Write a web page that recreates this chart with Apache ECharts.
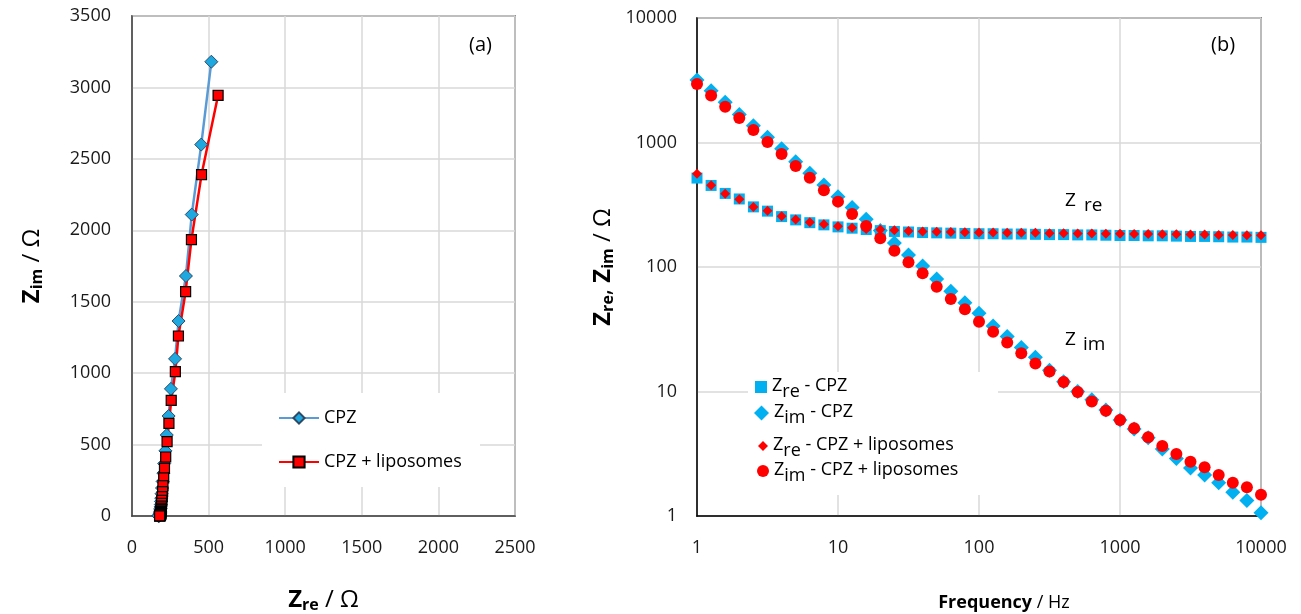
<!DOCTYPE html>
<html>
<head>
<meta charset="utf-8">
<script src="https://cdn.jsdelivr.net/npm/echarts@6/dist/echarts.min.js"></script>
<style>
html,body{margin:0;padding:0;background:#fff;}
#c{width:1301px;height:614px;}
</style>
</head>
<body>
<div id="c"></div>
<script>
// Frequencies (Hz), 10 points per decade
var freq = [1, 1.259, 1.585, 1.995, 2.512, 3.162, 3.981, 5.012, 6.31, 7.943,
  10, 12.59, 15.85, 19.95, 25.12, 31.62, 39.81, 50.12, 63.1, 79.43,
  100, 125.9, 158.5, 199.5, 251.2, 316.2, 398.1, 501.2, 631, 794.3,
  1000, 1259, 1585, 1995, 2512, 3162, 3981, 5012, 6310, 7943, 10000];
// Z_re (Ohm) - CPZ
var zreCPZ = [518, 452, 390, 352, 304, 281, 254, 239, 227, 218,
  210, 205, 200, 196, 193, 191, 189, 188, 187, 186,
  185, 185, 184, 184, 183, 182, 182, 181, 181, 180,
  179, 179, 178, 178, 177, 176, 176, 175, 174, 174, 173];
// Z_im (Ohm) - CPZ
var zimCPZ = [3180, 2600, 2110, 1680, 1365, 1100, 890, 700, 567, 456,
  367, 300, 242, 196, 156, 125, 102, 80, 64, 51.6,
  42.5, 33.6, 27.6, 22.6, 18.8, 14.8, 12.0, 10.0, 8.6, 7.1,
  5.9, 5.0, 4.25, 3.45, 2.9, 2.43, 2.13, 1.85, 1.55, 1.33, 1.06];
// Z_re (Ohm) - CPZ + liposomes
var zreLipo = [562, 454, 388, 350, 303, 283, 256, 241, 229, 220,
  212, 207, 202, 200, 197, 195, 193, 192, 191, 190,
  189, 189, 188, 188, 188, 187, 187, 186, 186, 185,
  185, 184, 184, 183, 183, 182, 182, 181, 181, 180, 180];
// Z_im (Ohm) - CPZ + liposomes
var zimLipo = [2945, 2390, 1935, 1570, 1260, 1010, 810, 648, 521, 413,
  335, 267, 213, 170, 135, 109, 89, 69.5, 55.4, 45.7,
  36.4, 30.2, 24.7, 20.3, 16.8, 14.5, 11.9, 9.9, 8.3, 7.0,
  5.9, 5.06, 4.3, 3.65, 3.15, 2.73, 2.46, 2.13, 1.85, 1.70, 1.48];

var seriesNamesA = ['CPZ', 'CPZ + liposomes'];
var seriesNamesB = ['Zre - CPZ', 'Zim - CPZ', 'Zre - CPZ + liposomes', 'Zim - CPZ + liposomes'];

function pairs(xs, ys) { return xs.map(function (x, i) { return [x, ys[i]]; }); }
function plain(v) { return String(Math.round(v)); }

var FONT = 'Open Sans';
var subRich = {
  z: { fontFamily: FONT, fontSize: 18, color: '#000', lineHeight: 20, verticalAlign: 'top' },
  s: { fontFamily: FONT, fontSize: 18, color: '#000', lineHeight: 20, verticalAlign: 'top', padding: [6, 0, 0, 0] },
  t: { fontFamily: FONT, fontSize: 18, color: '#000', lineHeight: 20, verticalAlign: 'top' }
};
var titleRich = {
  z: { fontFamily: FONT, fontSize: 24, fontWeight: 'bold', color: '#000', lineHeight: 26, verticalAlign: 'top' },
  s: { fontFamily: FONT, fontSize: 16, fontWeight: 'bold', color: '#000', lineHeight: 26, verticalAlign: 'top', padding: [9, 0, 0, 0] },
  t: { fontFamily: FONT, fontSize: 24, color: '#000', lineHeight: 26, verticalAlign: 'top' }
};
function legendFmt(name) {
  var p = name.split(' - ');
  return '{z|Z}{s|' + p[0].substring(1) + '}{t| - ' + p[1] + '}';
}

var gridLine = { lineStyle: { color: '#d9d9d9', width: 1.5 } };
var tickLabel = { fontFamily: FONT, fontSize: 18, color: '#1a1a1a', formatter: plain };

var option = {
  animation: false,
  backgroundColor: '#fff',
  grid: [
    { left: 132, top: 16, width: 383, height: 500, show: true, borderColor: '#404040', borderWidth: 1.5,
      backgroundColor: 'transparent', outerBoundsMode: 'none', containLabel: false },
    { left: 697, top: 18, width: 564, height: 498, show: true, borderColor: '#303030', borderWidth: 1.5,
      backgroundColor: 'transparent', outerBoundsMode: 'none', containLabel: false }
  ],
  xAxis: [
    { gridIndex: 0, type: 'value', min: 0, max: 2500, interval: 500,
      axisLine: { show: true, lineStyle: { color: '#404040', width: 1.5 } }, axisTick: { show: false },
      splitLine: gridLine, axisLabel: Object.assign({ margin: 23 }, tickLabel),
      name: '{z|Z}{s|re}{t| / Ω}', nameLocation: 'middle', nameGap: 72,
      nameTextStyle: { rich: titleRich } },
    { gridIndex: 1, type: 'log', logBase: 10, min: 1, max: 10000,
      axisLine: { show: true, lineStyle: { color: '#000', width: 1.5 } }, axisTick: { show: false },
      splitLine: gridLine, axisLabel: Object.assign({ margin: 23 }, tickLabel),
      name: '{b|Frequency}{n| / Hz}', nameLocation: 'middle', nameGap: 78,
      nameTextStyle: { padding: [0, 0, 0, 50], rich: {
        b: { fontFamily: FONT, fontSize: 18, fontWeight: 'bold', color: '#000' },
        n: { fontFamily: FONT, fontSize: 18, color: '#000' } } } }
  ],
  yAxis: [
    { gridIndex: 0, type: 'value', min: 0, max: 3500, interval: 500,
      axisLine: { show: true, lineStyle: { color: '#404040', width: 1.5 } }, axisTick: { show: false },
      splitLine: gridLine, axisLabel: Object.assign({ margin: 21 }, tickLabel),
      name: '{z|Z}{s|im}{t| / Ω}', nameLocation: 'middle', nameGap: 86, nameRotate: 90,
      nameTextStyle: { rich: titleRich } },
    { gridIndex: 1, type: 'log', logBase: 10, min: 1, max: 10000,
      axisLine: { show: true, lineStyle: { color: '#000', width: 1.5 } }, axisTick: { show: false },
      splitLine: gridLine, axisLabel: Object.assign({ margin: 20 }, tickLabel),
      name: '{z|Z}{s|re}{t|, }{z|Z}{s|im}{t| / Ω}', nameLocation: 'middle', nameGap: 80, nameRotate: 90,
      nameTextStyle: { rich: titleRich } }
  ],
  legend: [
    { data: [seriesNamesA[0], seriesNamesA[1]], orient: 'vertical', left: 278, top: 407, padding: 0,
      itemWidth: 40, itemHeight: 14, itemGap: 22, selectedMode: false,
      textStyle: { fontFamily: FONT, fontSize: 18, color: '#000', lineHeight: 22 } },
    { data: [seriesNamesB[0]], left: 755, top: 377, padding: 0, itemWidth: 12, itemHeight: 12, selectedMode: false,
      formatter: legendFmt, textStyle: { rich: subRich } },
    { data: [seriesNamesB[1]], left: 754, top: 403, padding: 0, itemWidth: 15, itemHeight: 15, selectedMode: false,
      formatter: legendFmt, textStyle: { rich: subRich } },
    { data: [seriesNamesB[2]], left: 758, top: 436, padding: 0, itemWidth: 10, itemHeight: 10, selectedMode: false,
      formatter: legendFmt, textStyle: { rich: subRich } },
    { data: [seriesNamesB[3]], left: 757, top: 461, padding: 0, itemWidth: 12, itemHeight: 12, selectedMode: false,
      formatter: legendFmt, textStyle: { rich: subRich } }
  ],
  graphic: { elements: [
    { type: 'rect', z: 1, shape: { x: 262, y: 393, width: 218, height: 94 }, style: { fill: '#fff' } },
    { type: 'rect', z: 1, shape: { x: 748, y: 372, width: 250, height: 123 }, style: { fill: '#fff' } },
    { type: 'text', z: 5, left: 469, top: 35, style: { text: '(a)', fontFamily: FONT, fontSize: 20, fill: '#000' } },
    { type: 'text', z: 5, left: 1211, top: 35, style: { text: '(b)', fontFamily: FONT, fontSize: 20, fill: '#000' } },
    { type: 'text', z: 5, left: 1065, top: 191, style: { text: 'Z', fontFamily: FONT, fontSize: 19, fill: '#000' } },
    { type: 'text', z: 5, left: 1084, top: 196, style: { text: 're', fontFamily: FONT, fontSize: 19, fill: '#000' } },
    { type: 'text', z: 5, left: 1065, top: 330, style: { text: 'Z', fontFamily: FONT, fontSize: 19, fill: '#000' } },
    { type: 'text', z: 5, left: 1083, top: 335, style: { text: 'im', fontFamily: FONT, fontSize: 19, fill: '#000' } }
  ] },
  series: [
    { name: seriesNamesA[0], type: 'line', xAxisIndex: 0, yAxisIndex: 0, data: pairs(zreCPZ, zimCPZ),
      symbol: 'diamond', symbolSize: 13, lineStyle: { color: '#5b9bd5', width: 2.5 },
      itemStyle: { color: '#1fa7df', borderColor: '#2b4a66', borderWidth: 1 } },
    { name: seriesNamesA[1], type: 'line', xAxisIndex: 0, yAxisIndex: 0, data: pairs(zreLipo, zimLipo),
      symbol: 'rect', symbolSize: 10, lineStyle: { color: '#ff0000', width: 2.5 },
      itemStyle: { color: '#ff0000', borderColor: '#000', borderWidth: 1.2 } },
    { name: seriesNamesB[0], type: 'scatter', xAxisIndex: 1, yAxisIndex: 1, data: pairs(freq, zreCPZ),
      symbol: 'rect', symbolSize: 11, itemStyle: { color: '#00b0f0', opacity: 1 } },
    { name: seriesNamesB[1], type: 'scatter', xAxisIndex: 1, yAxisIndex: 1, data: pairs(freq, zimCPZ),
      symbol: 'diamond', symbolSize: 15, itemStyle: { color: '#00b0f0', opacity: 1 } },
    { name: seriesNamesB[2], type: 'scatter', xAxisIndex: 1, yAxisIndex: 1, data: pairs(freq, zreLipo),
      symbol: 'diamond', symbolSize: 10, itemStyle: { color: '#ff0000', opacity: 1 } },
    { name: seriesNamesB[3], type: 'scatter', xAxisIndex: 1, yAxisIndex: 1, data: pairs(freq, zimLipo),
      symbol: 'circle', symbolSize: 12, itemStyle: { color: '#ff0000', opacity: 1 } }
  ]
};
var chart = echarts.init(document.getElementById('c'), null, { renderer: 'canvas' });
chart.setOption(option);
</script>
</body>
</html>
